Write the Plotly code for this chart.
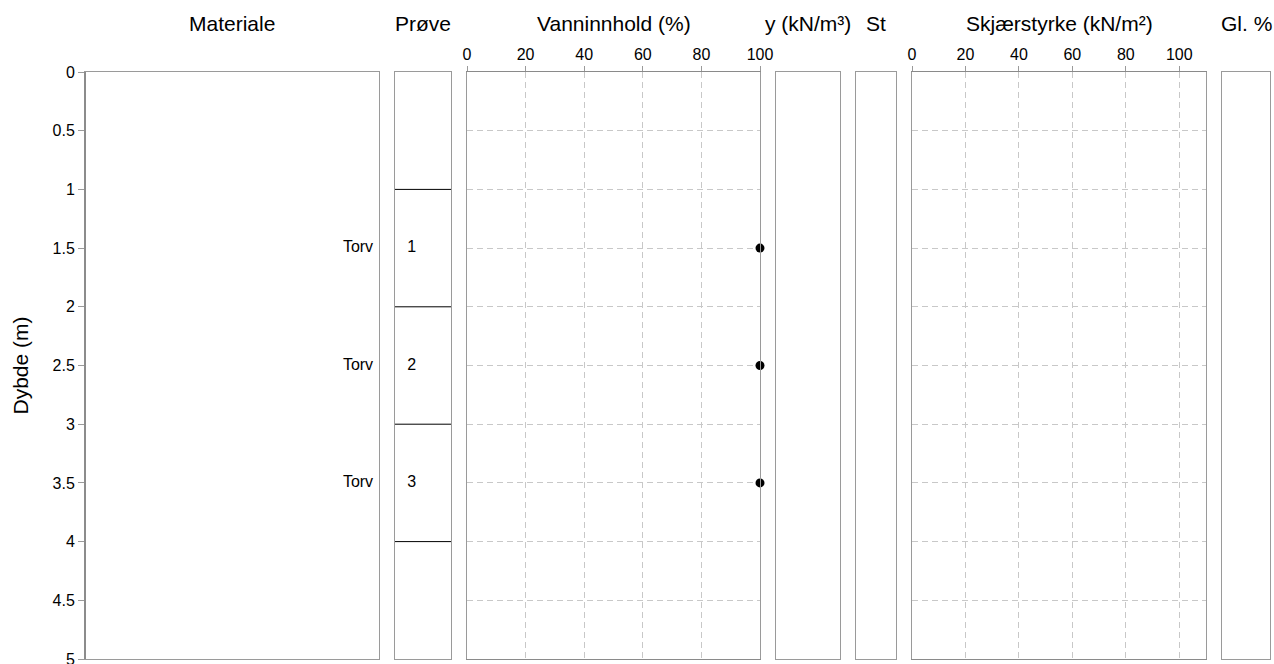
import plotly.graph_objects as go

# ---- data ----
materials = ["Torv", "Torv", "Torv"]
material_depth = [1.5, 2.5, 3.5]
sample_ids = ["1", "2", "3"]
sample_depth = [1.5, 2.5, 3.5]
sample_top = [1, 2, 3]
sample_bottom = [2, 3, 4]
water_depth = [1.5, 2.5, 3.5]
water_content = [100, 100, 100]
top_ticks = [0, 20, 40, 60, 80, 100]
depth_ticks = [0, 0.5, 1, 1.5, 2, 2.5, 3, 3.5, 4, 4.5, 5]

panel_titles = ["Materiale", "Prøve", "Vanninnhold (%)", "y (kN/m³)", "St",
                "Skjærstyrke (kN/m²)", "Gl. %"]

W, H = 1274, 664
L, R, T, B = 85, 4, 72, 5
pw = W - L - R
ph = H - T - B
px_edges = [(85, 379), (395, 451), (467, 760), (776, 840), (856, 896), (912, 1206), (1222, 1270)]
domains = [[(a - L) / pw, min(1.0, (b - L) / pw)] for a, b in px_edges]

FONT = "Liberation Sans, Arial, sans-serif"
BORDER = "#9a9a9a"
GRID = "#c8c8c8"
TICKFONT = 16
TITLEFONT = 21

fig = go.Figure()

# empty traces so every panel gets drawn
for i in range(7):
    xname = "x" if i == 0 else f"x{i+1}"
    yname = "y" if i == 0 else f"y{i+1}"
    fig.add_trace(go.Scatter(x=[None], y=[None], mode="markers", xaxis=xname, yaxis=yname,
                             showlegend=False, hoverinfo="skip"))

# Materiale labels
fig.add_trace(go.Scatter(x=[0.98] * len(materials), y=material_depth, text=materials,
                         mode="text", textposition="middle left",
                         textfont=dict(size=TICKFONT, color="#000", family=FONT),
                         xaxis="x", yaxis="y", showlegend=False, hoverinfo="skip"))

# Prøve boundaries
bx, by = [], []
bounds = sorted(set(sample_top + sample_bottom))
for d in bounds:
    bx += [0, 1, None]
    by += [d, d, None]
fig.add_trace(go.Scatter(x=bx, y=by, mode="lines", line=dict(color="#000", width=1),
                         xaxis="x2", yaxis="y2", showlegend=False, hoverinfo="skip"))
fig.add_trace(go.Scatter(x=[0.30] * len(sample_ids), y=sample_depth, text=sample_ids,
                         mode="text", textposition="middle center",
                         textfont=dict(size=TICKFONT, color="#000", family=FONT),
                         xaxis="x2", yaxis="y2", showlegend=False, hoverinfo="skip"))

# Vanninnhold markers
fig.add_trace(go.Scatter(x=water_content, y=water_depth, mode="markers",
                         marker=dict(color="#000", size=9, symbol="circle"),
                         cliponaxis=False, xaxis="x3", yaxis="y3", showlegend=False))

layout = dict(width=W, height=H, margin=dict(l=L, r=R, t=T, b=B, autoexpand=False),
              paper_bgcolor="white", plot_bgcolor="white",
              font=dict(family=FONT, size=TICKFONT, color="#000"), showlegend=False)

xranges = [[0, 1], [0, 1], [0, 100], [0, 1], [0, 1], [0, 110], [0, 1]]
for i in range(7):
    xa = "xaxis" if i == 0 else f"xaxis{i+1}"
    ya = "yaxis" if i == 0 else f"yaxis{i+1}"
    yname = "y" if i == 0 else f"y{i+1}"
    xname = "x" if i == 0 else f"x{i+1}"
    has_ticks = i in (2, 5)
    layout[xa] = dict(domain=domains[i], range=xranges[i], anchor=yname, automargin=False,
                      side="top", showline=True, mirror=True,
                      linecolor="#8a8a8a" if has_ticks else BORDER, linewidth=1,
                      zeroline=False, fixedrange=True, layer="above traces",
                      showticklabels=has_ticks,
                      tickvals=top_ticks if has_ticks else [],
                      ticks="outside" if has_ticks else "", ticklen=5, tickcolor=BORDER,
                      showgrid=has_ticks, gridcolor=GRID, griddash="6px,4px", gridwidth=1,
                      tickfont=dict(size=TICKFONT, color="#000"))
    layout[ya] = dict(domain=[0, 1], range=[5, 0], anchor=xname, automargin=False,
                      showline=True, mirror=True, linecolor=BORDER, linewidth=1,
                      zeroline=False, fixedrange=True, layer="above traces",
                      tickvals=depth_ticks,
                      showticklabels=(i == 0), ticklabeloverflow="allow",
                      ticks="outside" if i == 0 else "", ticklen=6, tickcolor=BORDER,
                      showgrid=has_ticks, gridcolor=GRID, griddash="6px,4px", gridwidth=1,
                      tickfont=dict(size=TICKFONT, color="#000"))
    if i > 0:
        layout[ya]["matches"] = "y"

fig.update_layout(**layout)

# thicker left axis line of first panel
fig.add_shape(type="line", xref="paper", yref="paper", x0=0, x1=0, y0=0, y1=1,
              line=dict(color="#8c8c8c", width=2))

# panel titles
for (a, b), t in zip(px_edges, panel_titles):
    cx = ((a + b) / 2 - L) / pw
    fig.add_annotation(x=cx, y=1 + (T - 23) / ph, xref="paper", yref="paper",
                       text=t, showarrow=False, xanchor="center", yanchor="middle",
                       font=dict(size=TITLEFONT, color="#000", family=FONT))

fig.add_annotation(x=(20 - L) / pw, y=0.5, xref="paper", yref="paper", text="Dybde (m)",
                   textangle=-90, showarrow=False, xanchor="center", yanchor="middle",
                   font=dict(size=TITLEFONT, color="#000", family=FONT))

fig.write_html("out.html", config={"displayModeBar": False},
               post_script="document.body.style.margin='0';")
